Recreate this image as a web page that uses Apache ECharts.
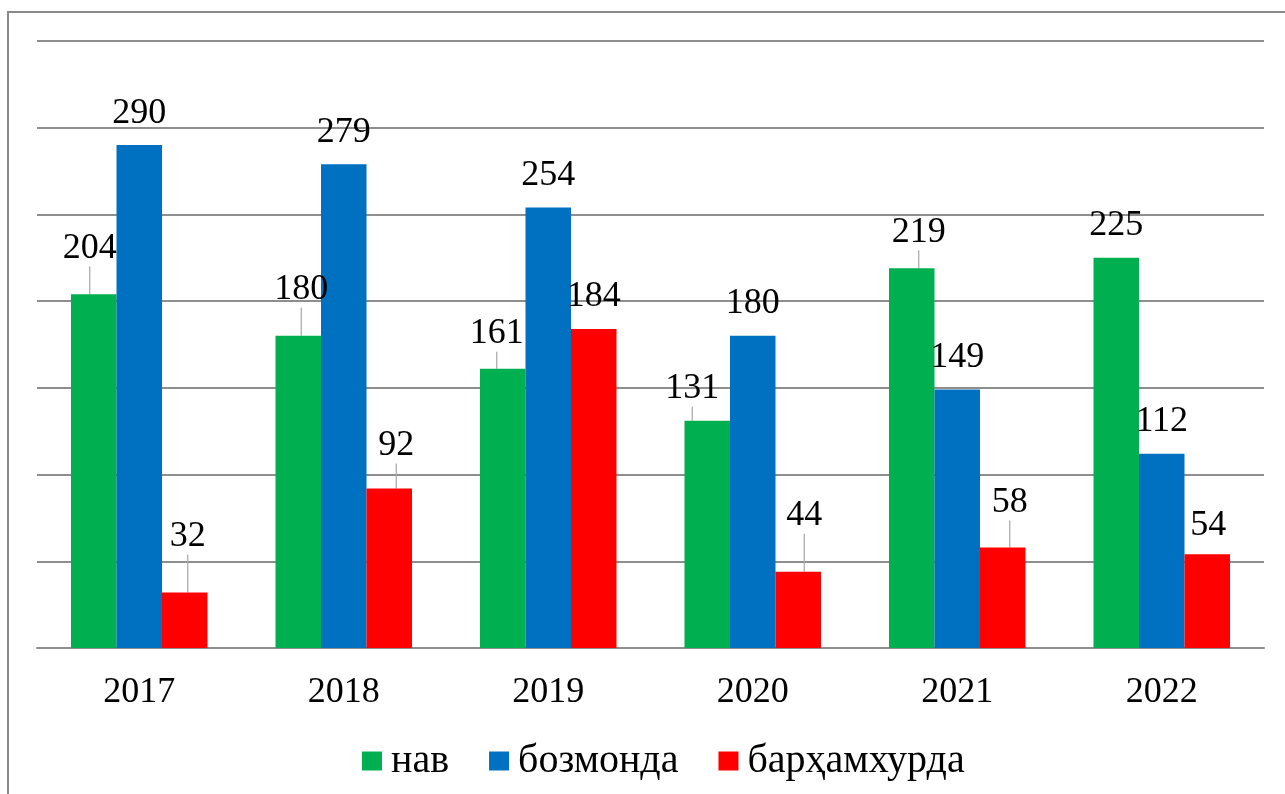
<!DOCTYPE html>
<html>
<head>
<meta charset="utf-8">
<script src="https://cdn.jsdelivr.net/npm/echarts@6/dist/echarts.min.js"></script>
<style>
  html, body { margin: 0; padding: 0; background: #fff; }
  #main { width: 1285px; height: 794px; }
</style>
</head>
<body>
<div id="main"></div>
<script>
var years = ['2017', '2018', '2019', '2020', '2021', '2022'];
var seriesNames = ['нав', 'бозмонда', 'барҳамхурда'];
var navValues = [204, 180, 161, 131, 219, 225];
var bozmondaValues = [290, 279, 254, 180, 149, 112];
var barhamValues = [32, 92, 184, 44, 58, 54];

// manual label nudges (dx, dy), like the moved labels in the original
var navNudge = [[-4, -14], [3, -14], [-6, -3], [-15, 0], [7, -4], [0, 0]];
var bozNudge = [[0, 0], [0, 0], [0, 0], [0, 0], [0, 0], [0, 0]];
var barNudge = [[3, -24], [7, -11], [0, 0], [6, -24], [7, -13], [1, 3]];
var colors = ['#00B050', '#0070C0', '#FF0000'];

var font = '"Liberation Serif", "Times New Roman", serif';
var chart = echarts.init(document.getElementById('main'));

function makeSeries(idx, values, nudge) {
    return {
        name: seriesNames[idx],
        type: 'bar',
        barWidth: 45.5,
        barGap: '0%',
        itemStyle: { color: colors[idx] },
        label: {
            show: true,
            position: 'top',
            distance: 14,
            color: '#000',
            fontFamily: font,
            fontSize: 36
        },
        labelLine: {
            show: true,
            lineStyle: { color: '#a6a6a6', width: 1.2 }
        },
        labelLayout: function (params) {
            var n = nudge[params.dataIndex];
            return { dx: n[0], dy: n[1] };
        },
        data: values.map(function (v, i) {
            var moved = Math.abs(nudge[i][0]) + Math.abs(nudge[i][1]) > 8;
            return { value: v, labelLine: { show: moved } };
        })
    };
}

var option = {
    animation: false,
    color: colors,
    graphic: [{
        type: 'rect',
        shape: { x: 8, y: 12, width: 1400, height: 900 },
        style: { fill: 'none', stroke: '#898989', lineWidth: 2 },
        silent: true
    }],
    grid: { left: 37, right: 21, top: 41, bottom: 146 },
    legend: {
        bottom: 8,
        left: 357,
        icon: 'rect',
        itemWidth: 20,
        itemHeight: 19,
        itemGap: 40,
        textStyle: { fontFamily: font, fontSize: 40, color: '#000', padding: [0, 0, 0, 4] },
        data: seriesNames
    },
    xAxis: {
        type: 'category',
        data: years,
        axisLine: { lineStyle: { color: '#8e8e8e', width: 2 } },
        axisTick: { show: false },
        axisLabel: { fontFamily: font, fontSize: 36, color: '#000', margin: 27 }
    },
    yAxis: {
        type: 'value',
        min: 0,
        max: 350,
        interval: 50,
        axisLabel: { show: false },
        axisLine: { show: false },
        axisTick: { show: false },
        splitLine: { lineStyle: { color: '#8e8e8e', width: 2 } }
    },
    series: [
        makeSeries(0, navValues, navNudge),
        makeSeries(1, bozmondaValues, bozNudge),
        makeSeries(2, barhamValues, barNudge)
    ]
};
chart.setOption(option);
</script>
</body>
</html>
